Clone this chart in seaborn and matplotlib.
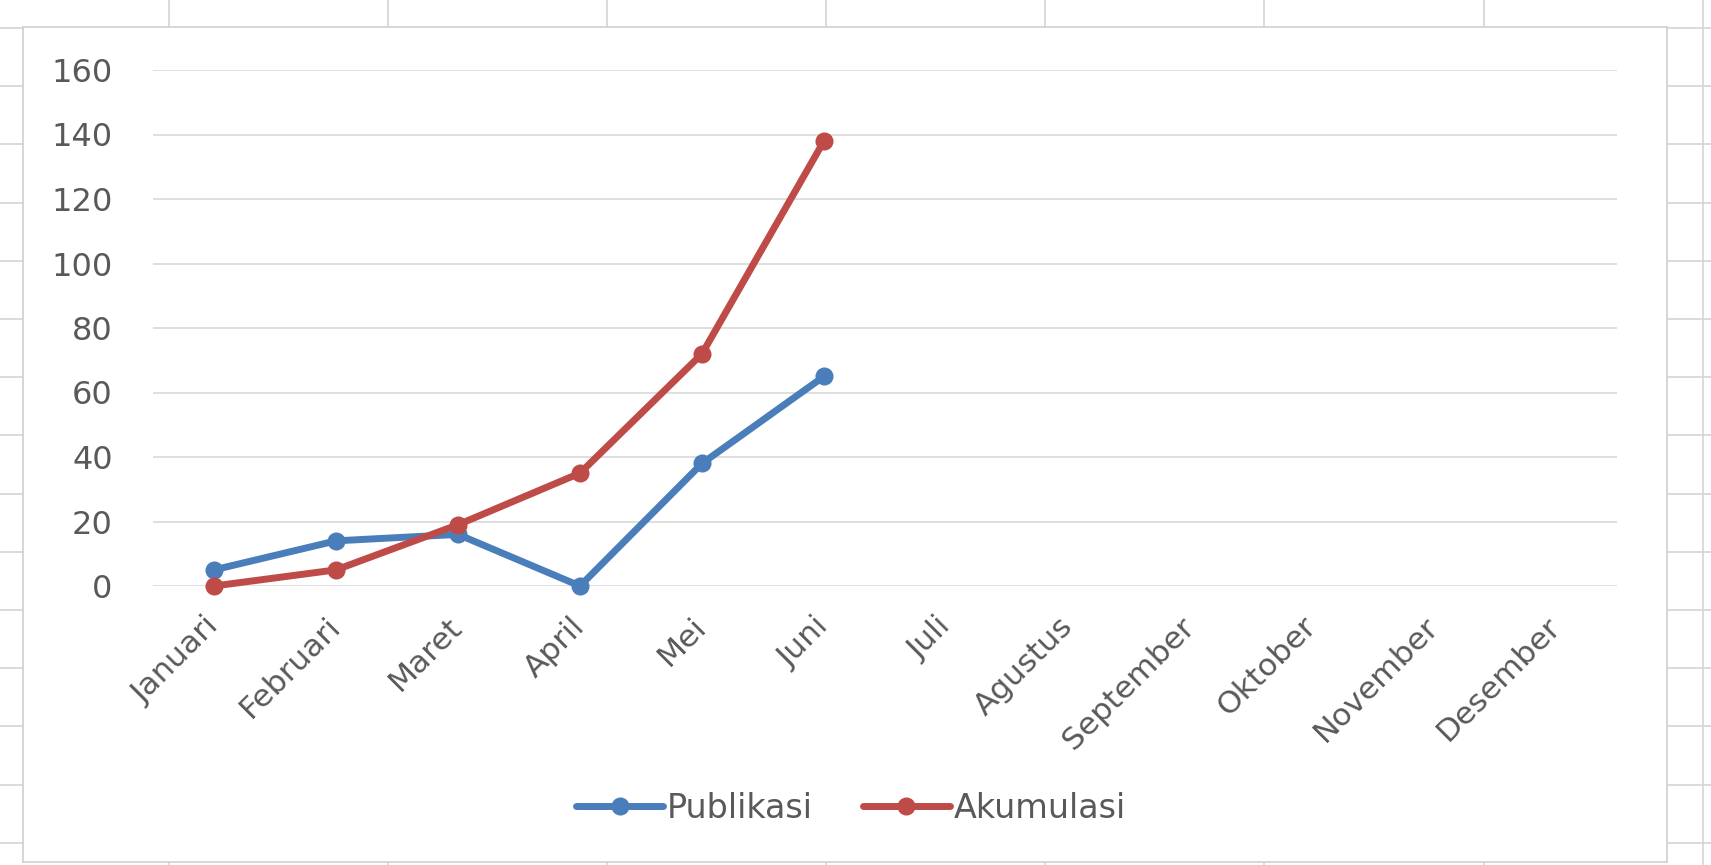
import numpy as np
import pandas as pd
import matplotlib
matplotlib.use("Agg")
import matplotlib.pyplot as plt
from matplotlib.lines import Line2D
import seaborn as sns

months = ["Januari", "Februari", "Maret", "April", "Mei", "Juni", "Juli",
          "Agustus", "September", "Oktober", "November", "Desember"]
publikasi = [5, 14, 16, 0, 38, 65]
akumulasi = [0, 5, 19, 35, 72, 138]
series_names = ["Publikasi", "Akumulasi"]
series_colors = ["#4A7EBB", "#BE4B48"]
y_ticks = [0, 20, 40, 60, 80, 100, 120, 140, 160]

sns.set_theme(style="white")
plt.rcParams["font.family"] = ["DejaVu Sans"]

W, H = 1711, 865
fig = plt.figure(figsize=(W / 100, H / 100), dpi=100)
fig.patch.set_facecolor("white")

# spreadsheet cell grid behind the chart
bg = fig.add_axes([0, 0, 1, 1], zorder=0)
bg.set_xlim(0, W)
bg.set_ylim(H, 0)
bg.set_xticks([169 + 219.1 * k for k in range(8)])
bg.set_yticks([28 + 58.2 * k for k in range(15)])
bg.grid(True, color="#d4d4d4", linewidth=1.2)
bg.tick_params(length=0, labelbottom=False, labelleft=False)
for s in bg.spines.values():
    s.set_visible(False)

# chart area
ca = fig.add_axes([23 / W, (H - 862) / H, (1667 - 23) / W, (862 - 27) / H], zorder=1)
ca.set_facecolor("white")
ca.set_xticks([])
ca.set_yticks([])
for s in ca.spines.values():
    s.set_color("#d0d0d0")
    s.set_linewidth(1.2)

# plot area
ax = fig.add_axes([153 / W, (H - 586) / H, (1617 - 153) / W, (586 - 70) / H], zorder=2)
ax.set_facecolor("none")

rows = []
for name, vals in zip(series_names, [publikasi, akumulasi]):
    for i, v in enumerate(vals):
        rows.append({"pos": months.index(months[i]), "value": v, "series": name})
df = pd.DataFrame(rows)

sns.lineplot(data=df, x="pos", y="value", hue="series", hue_order=series_names,
             palette=series_colors, marker="o", markersize=13, markeredgewidth=0,
             linewidth=5, ax=ax, clip_on=False, legend=False, zorder=3)

ax.set_xlim(-0.5, len(months) - 0.5)
ax.set_ylim(0, 160)
ax.set_yticks(y_ticks)
ax.set_yticklabels([str(t) for t in y_ticks])
ax.set_xticks(range(len(months)))
ax.set_xticklabels(months, rotation=45, ha="right", va="center", rotation_mode="anchor")
ax.tick_params(axis="y", length=0, pad=29, labelsize=23, labelcolor="#595959")
ax.tick_params(axis="x", length=0, pad=26, labelsize=22.5, labelcolor="#595959")
ax.grid(True, axis="y", color="#d9d9d9", linewidth=1.2)
ax.set_axisbelow(True)
ax.set_xlabel("")
ax.set_ylabel("")
for s in ax.spines.values():
    s.set_visible(False)

handles = [Line2D([], [], color=c, linewidth=5, marker="o", markersize=13,
                  markeredgewidth=0) for c in series_colors]
leg = fig.legend(handles, series_names, loc="center", bbox_to_anchor=(851 / W, (H - 808) / H),
                 ncol=2, frameon=False, fontsize=24, handlelength=2.6, handletextpad=0.12,
                 columnspacing=1.5, labelcolor="#595959")

fig.savefig("out.png", dpi=100, facecolor="white")
